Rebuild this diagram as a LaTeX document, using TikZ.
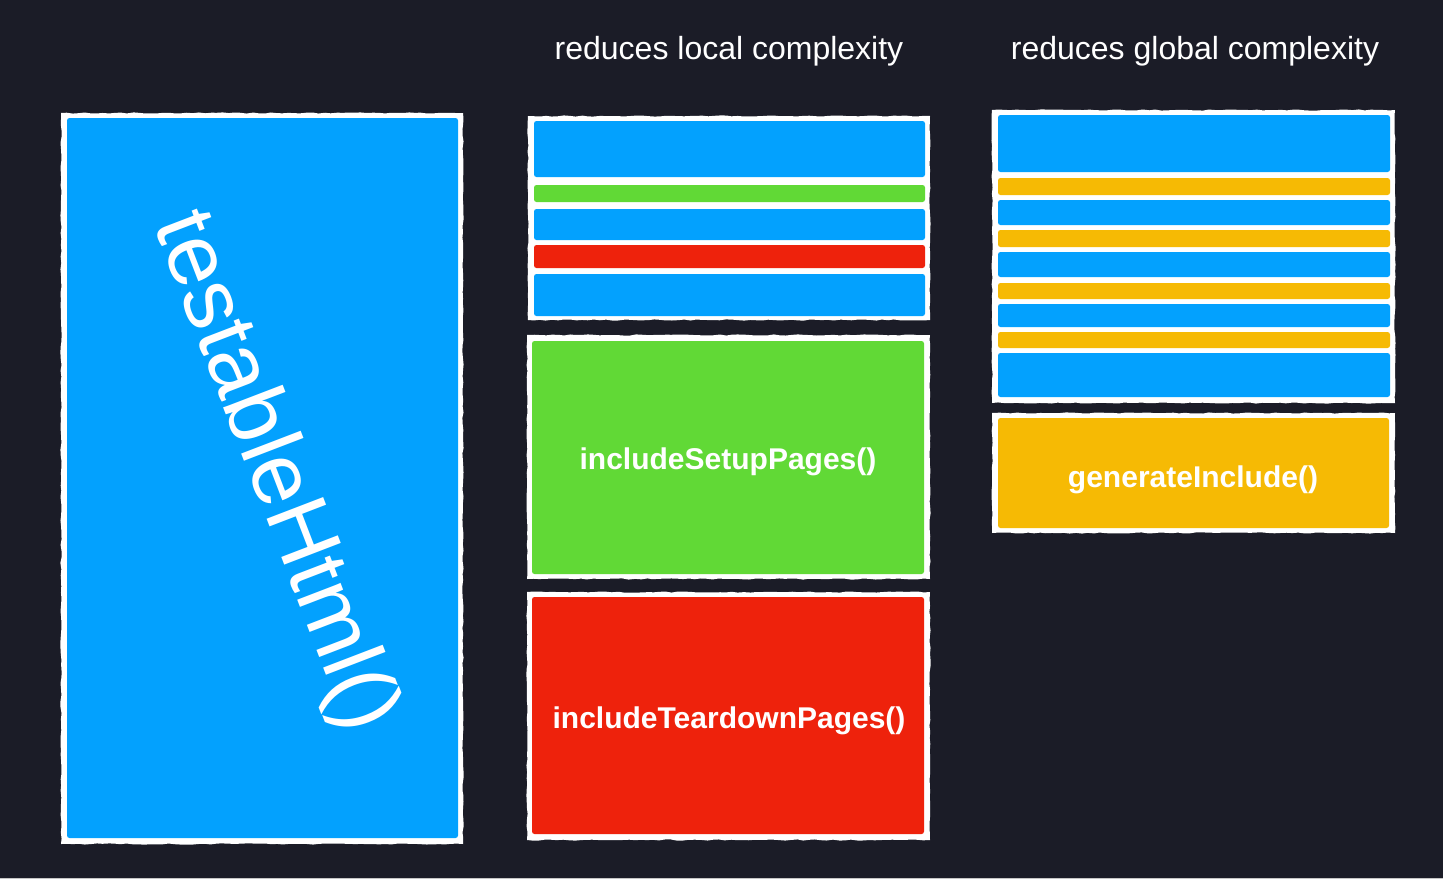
\documentclass[tikz,border=0pt]{standalone}
\usepackage{fontspec}
\setmainfont{Liberation Sans}
\usetikzlibrary{decorations.pathmorphing}
\definecolor{bgc}{HTML}{1B1C27}
\definecolor{cblue}{HTML}{03A1FE}
\definecolor{cgreen}{HTML}{61D936}
\definecolor{cred}{HTML}{EE220C}
\definecolor{cyellow}{HTML}{F6BA04}
\tikzset{
  wframe/.style={fill=white, decorate, decoration={random steps, segment length=6pt, amplitude=0.6pt}},
  band/.style={rounded corners=2.5pt},
  header/.style={text=white, anchor=base, inner sep=0pt, font=\fontsize{32}{38}\selectfont},
  label/.style={text=white, anchor=base, inner sep=0pt, font=\fontsize{30}{36}\selectfont\bfseries},
}
\begin{document}
\begin{tikzpicture}[x=1pt, y=-1pt]
\useasboundingbox (0,0) rectangle (1443,879);
\fill[bgc] (0,0) rectangle (1443,879);
\fill[gray!45] (0,877.5) rectangle (1443,879);

% headers
\node[header] (hlocal) at (729,59) {reduces local complexity};
\node[header] (hglobal) at (1195,59) {reduces global complexity};

% left big box
\fill[wframe] (61,113) rectangle (463,844);
\fill[band, cblue] (67,118) rectangle (458,838);
\node[text=white, inner sep=0pt, rotate=-69, font=\fontsize{88}{104}\selectfont] (tht) at (273,472) {testableHtml()};

% middle top stack
\fill[wframe] (528,116) rectangle (930,320);
\fill[band, cblue]  (534,121) rectangle (925,177);
\fill[band, cgreen] (534,185) rectangle (925,202);
\fill[band, cblue]  (534,209) rectangle (925,240);
\fill[band, cred]   (534,245) rectangle (925,268);
\fill[band, cblue]  (534,274) rectangle (925,316);

% includeSetupPages
\fill[wframe] (527,335) rectangle (930,579);
\fill[band, cgreen] (532,341) rectangle (924,574);
\node[label] (setup) at (728,469) {includeSetupPages()};

% includeTeardownPages
\fill[wframe] (527,592) rectangle (930,840);
\fill[band, cred] (532,597) rectangle (924,834);
\node[label] (teardown) at (729,728) {includeTeardownPages()};

% right stack
\fill[wframe] (992,110) rectangle (1395,403);
\fill[band, cblue]   (998,115) rectangle (1390,172);
\fill[band, cyellow] (998,178) rectangle (1390,195);
\fill[band, cblue]   (998,200) rectangle (1390,225);
\fill[band, cyellow] (998,230) rectangle (1390,247);
\fill[band, cblue]   (998,252) rectangle (1390,277);
\fill[band, cyellow] (998,283) rectangle (1390,299);
\fill[band, cblue]   (998,304) rectangle (1390,327);
\fill[band, cyellow] (998,332) rectangle (1390,348);
\fill[band, cblue]   (998,353) rectangle (1390,397);

% generateInclude
\fill[wframe] (992,413) rectangle (1395,533);
\fill[band, cyellow] (998,418) rectangle (1389,528);
\node[label] (geninc) at (1193,487) {generateInclude()};
\end{tikzpicture}
\end{document}
